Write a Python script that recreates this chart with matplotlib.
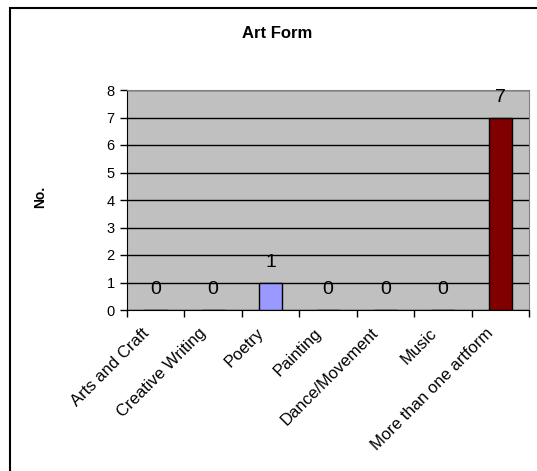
import numpy as np
import matplotlib.pyplot as plt
from matplotlib.patches import Rectangle

plt.rcParams['font.family'] = ['Liberation Sans', 'DejaVu Sans']

# data #
categories = ['Arts and Craft', 'Creative Writing', 'Poetry', 'Painting',
              'Dance/Movement', 'Music', 'More than one artform']
counts = [0, 0, 1, 0, 0, 0, 7]
bar_colors = ['#9999FF', '#9999FF', '#9999FF', '#9999FF', '#9999FF', '#9999FF', '#800000']
##########

W, H = 537, 471
fig = plt.figure(figsize=(W / 100, H / 100), dpi=100)
ax = fig.add_axes([127 / W, 1 - 310 / H, (529 - 127) / W, (310 - 90) / H])

x = np.arange(len(categories))
ax.bar(x, counts, width=0.4, color=bar_colors, edgecolor='black', linewidth=1, zorder=3)

for xi, v in zip(x, counts):
    ax.annotate(str(v), (xi, v), xytext=(0, 11.5), textcoords='offset points',
                ha='center', va='baseline', fontsize=14, zorder=4)

ax.set_facecolor('#C0C0C0')
ax.set_xlim(-0.5, len(categories) - 0.5)
ax.set_ylim(0, 8)
ax.set_yticks(range(0, 9))
ax.yaxis.grid(True, color='black', linewidth=1)
ax.set_axisbelow(True)

# category boundaries as ticks, names on minor ticks nudged left like the original
ax.set_xticks(np.arange(len(categories) + 1) - 0.5)
ax.set_xticklabels([])
ax.set_xticks(x - 0.25, minor=True)
ax.set_xticklabels(categories, minor=True, rotation=45, ha='right',
                   rotation_mode='anchor', fontsize=12)
ax.tick_params(axis='x', which='minor', length=0, pad=11)
ax.tick_params(axis='x', which='major', length=5, width=1, direction='out')
ax.tick_params(axis='y', length=5, width=1, direction='out', labelsize=10.5, pad=4)

for side in ['top', 'right']:
    ax.spines[side].set_color('#808080')
for side in ['left', 'bottom']:
    ax.spines[side].set_color('black')

ax.set_ylabel('No.', fontsize=10, fontweight='bold')
ax.yaxis.set_label_coords((47 - 127) / (529 - 127), (310 - 197) / (310 - 90))
fig.text(277 / W, 1 - 34 / H, 'Art Form', ha='center', va='center',
         fontsize=12, fontweight='bold')

fig.patches.append(Rectangle((10 / W, -0.1), 1.0, 1 - 8 / H + 0.1,
                             transform=fig.transFigure, fill=False,
                             edgecolor='black', linewidth=1.5))

fig.savefig('out.png', dpi=100)
